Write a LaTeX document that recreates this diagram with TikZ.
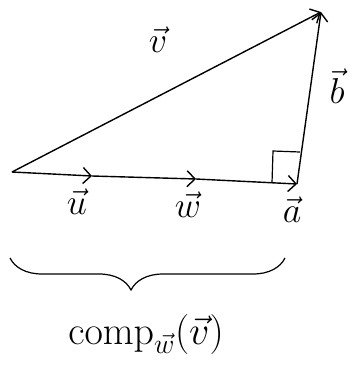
\RequirePackage{fix-cm}
\documentclass[tikz,border=0pt]{standalone}
\usepackage{amsmath}
\usepackage{tikz}
\usetikzlibrary{arrows.meta, positioning, calc, decorations.pathreplacing}

\begin{document}
\begin{tikzpicture}[x=1pt, y=-1pt,
    vec/.style={line width=1.4pt, -{Straight Barb[length=8pt, width=16pt, line width=1.4pt]}},
    lbl/.style={inner sep=0pt, font=\fontsize{36}{42}\selectfont}]
    \useasboundingbox (0, 0) rectangle (352, 370);

    \coordinate (O) at (12, 172);
    \coordinate (U) at (92, 176);
    \coordinate (W) at (196, 179);
    \coordinate (A) at (297, 184);
    \coordinate (P) at (321, 12);

    \draw[vec] (O) -- (P);
    \draw[vec] (A) -- (P);
    \draw[vec] (O) -- (U);
    \draw[vec] (U) -- (W);
    \draw[vec] (W) -- (A);

    % right angle mark
    \draw[line width=1.2pt] (272, 183) -- (273, 151) -- (300, 152);

    \node[lbl] (lv) at (158, 40) {$\vec{v}$};
    \node[lbl] (lb) at (337, 86) {$\vec{b}$};
    \node[lbl] (lu) at (77, 202) {$\vec{u}$};
    \node[lbl] (lw) at (188, 205) {$\vec{w}$};
    \node[lbl] (la) at (292, 210) {$\vec{a}$};

    \draw[line width=1.2pt, decorate, decoration={brace, mirror, amplitude=32pt, aspect=0.44}]
        (10, 258) -- (285, 258);

    \node[lbl, font=\fontsize{40}{46}\selectfont] (lc) at (146, 334) {$\mathrm{comp}_{\vec{w}}(\vec{v})$};
\end{tikzpicture}
\end{document}
